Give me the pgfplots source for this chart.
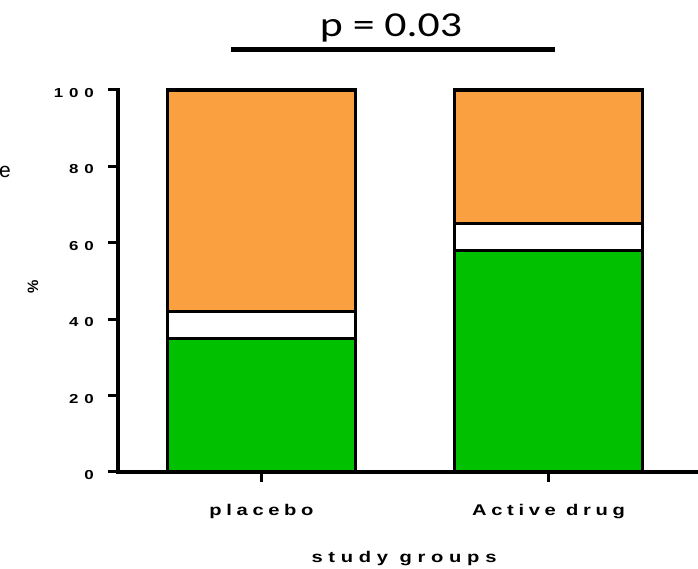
\documentclass[border=0pt]{standalone}
\usepackage{fontspec}
\setmainfont{Liberation Sans}
\newfontfamily\lsfont[LetterSpace=30, FakeStretch=1.3]{Liberation Sans}
\newfontfamily\lsfontb[LetterSpace=37, FakeStretch=1.3]{Liberation Sans}
\newfontfamily\lsfonty[LetterSpace=45, FakeStretch=1.3]{Liberation Sans}
\newfontfamily\titlefont[FakeStretch=1.25]{Carlito}
\usepackage{pgfplots}
\pgfplotsset{compat=1.18}
\definecolor{barorange}{RGB}{251,160,64}
\definecolor{bargreen}{RGB}{0,192,0}
\begin{document}
\begin{tikzpicture}
\useasboundingbox (-118pt,-97pt) rectangle (580pt,472pt);
\begin{axis}[
  at={(0pt,0pt)}, anchor=south west, scale only axis,
  width=580pt, height=382pt,
  xmin=-0.5, xmax=1.521, ymin=0, ymax=100,
  axis lines=left,
  axis line style={line width=4pt, -, line cap=rect},
  ybar stacked, bar width=188pt,
  xtick={0,1}, xticklabels={placebo, Active drug},
  ytick={0,20,40,60,80,100}, yticklabels={0,20,40,60,80,100},
  tick align=outside, major tick length=10pt,
  tick style={line width=3pt, black},
  xticklabel style={font=\lsfont\bfseries\fontsize{15.5}{17}\selectfont, inner sep=0pt, text height=11pt, text depth=3pt, yshift=-22pt},
  yticklabel style={font=\lsfonty\bfseries\fontsize{13}{15}\selectfont, inner sep=0pt, xshift=-14pt, yshift=-3pt},
  clip=false,
]
\addplot[fill=bargreen, draw=black, line width=3.5pt] coordinates {(0,35) (1,58)};
\addplot[fill=white, draw=black, line width=3.5pt] coordinates {(0,7) (1,7)};
\addplot[fill=barorange, draw=black, line width=3.5pt] coordinates {(0,58) (1,35)};
\end{axis}
\node[anchor=base, inner sep=0pt, font=\titlefont\fontsize{35}{40}\selectfont] at (273pt,435pt) {p = 0.03};
\draw[line width=5pt] (113pt,422pt) -- (437pt,422pt);
\node[inner sep=0pt, font=\fontsize{21}{24}\selectfont] at (-113pt,300pt) {e};
\node[inner sep=0pt, rotate=90, font=\bfseries\fontsize{15}{18}\selectfont] at (-85pt,185pt) {\%};
\node[anchor=base, inner sep=0pt, font=\lsfontb\bfseries\fontsize{15.5}{17}\selectfont] at (286pt,-91pt) {study groups};
\end{tikzpicture}
\end{document}
